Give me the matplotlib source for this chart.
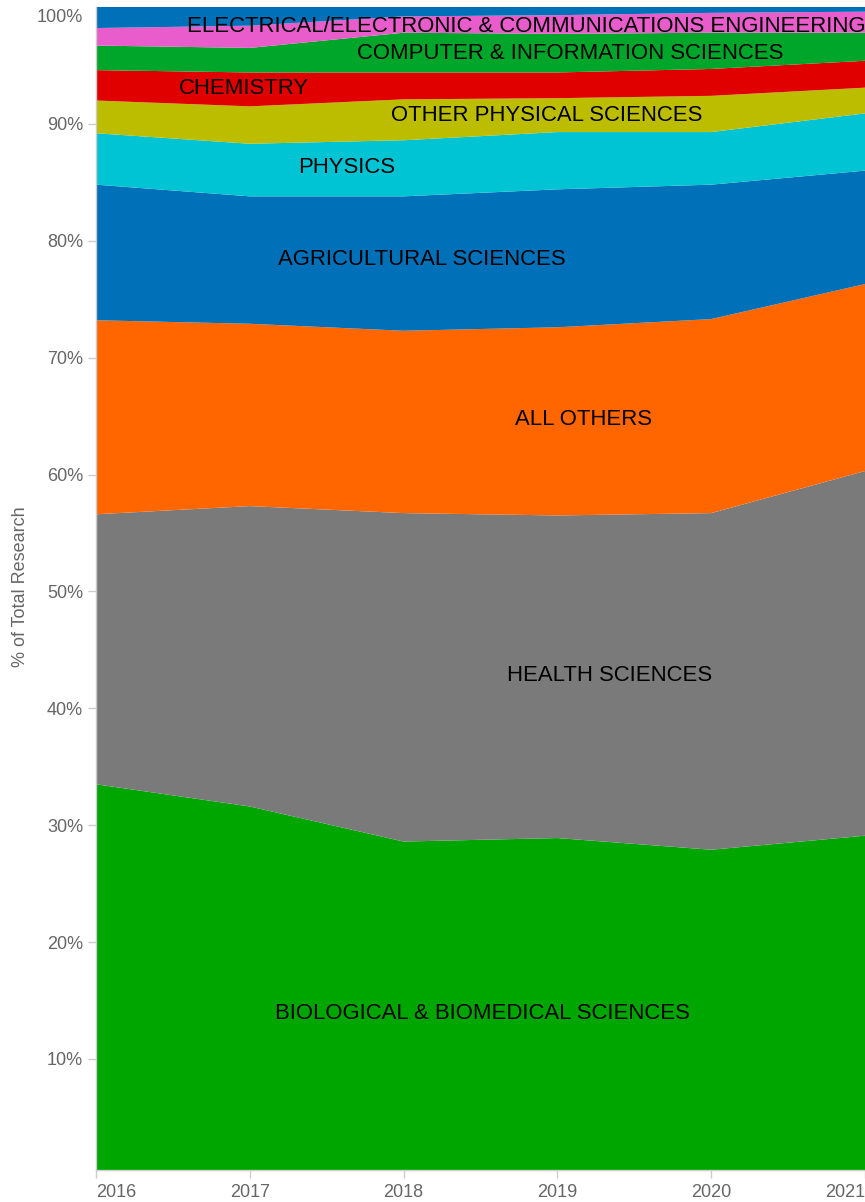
import numpy as np
import matplotlib
matplotlib.use("Agg")
import matplotlib.pyplot as plt

plt.rcParams['font.family'] = ['Liberation Sans', 'DejaVu Sans']

years = [2016, 2017, 2018, 2019, 2020, 2021]

# share of total research (%) per field, stacked from the bottom up
biological = [33.5, 31.6, 28.6, 28.9, 27.9, 29.1]
health = [23.1, 25.7, 28.1, 27.6, 28.8, 31.2]
all_others = [16.6, 15.6, 15.6, 16.1, 16.6, 16.0]
agricultural = [11.6, 10.9, 11.5, 11.8, 11.5, 9.7]
physics = [4.4, 4.5, 4.8, 4.9, 4.5, 4.9]
other_physical = [2.8, 3.2, 3.5, 2.9, 3.1, 2.2]
chemistry = [2.6, 2.9, 2.3, 2.2, 2.3, 2.3]
computer = [2.1, 2.1, 3.4, 3.3, 3.1, 2.4]
electrical = [1.5, 1.9, 1.4, 1.6, 1.7, 1.8]
unlabeled = [1.8, 1.6, 0.8, 0.7, 0.5, 0.4]

fields = ["BIOLOGICAL & BIOMEDICAL SCIENCES", "HEALTH SCIENCES", "ALL OTHERS",
          "AGRICULTURAL SCIENCES", "PHYSICS", "OTHER PHYSICAL SCIENCES", "CHEMISTRY",
          "COMPUTER & INFORMATION SCIENCES",
          "ELECTRICAL/ELECTRONIC & COMMUNICATIONS ENGINEERING", ""]
series = [biological, health, all_others, agricultural, physics, other_physical,
          chemistry, computer, electrical, unlabeled]
colors = ["#00a600", "#7a7a7a", "#ff6600", "#0070b8", "#00c4d4", "#bdbd00",
          "#e00000", "#00a62a", "#e85ccc", "#0070b8"]

# where each field name sits (year, % baseline)
label_pos = [(2018.51, 13.4), (2019.34, 42.3), (2019.17, 64.2), (2018.12, 77.9),
             (2017.63, 85.8), (2018.93, 90.25), (2016.96, 92.55), (2019.08, 95.55),
             (2018.80, 97.85), None]

fig = plt.figure(figsize=(8.65, 12.02), dpi=100)
ax = fig.add_axes([96 / 865, 32 / 1202, 769 / 865, 1163 / 1202])

ax.stackplot(years, np.array(series), colors=colors, linewidth=0, antialiased=True)

for name, pos in zip(fields, label_pos):
    if pos is None:
        continue
    ax.text(pos[0], pos[1], name, ha='center', va='baseline', fontsize=15.9,
            color='black')

ax.set_xlim(2016, 2021)
ax.set_ylim(0.5, 100)

grey = '#666666'
ax.set_yticks(range(10, 100, 10))
ax.set_yticklabels([f"{v}%" for v in range(10, 100, 10)])
ax.annotate("100%", xy=(0, 100), xycoords=('axes fraction', 'data'),
            xytext=(-9.4, -7.9), textcoords='offset points',
            ha='right', va='center', fontsize=13, color=grey)

ax.set_xticks(years)
xlabels = ax.set_xticklabels([str(y) for y in years])
xlabels[0].set_horizontalalignment('left')
xlabels[-1].set_horizontalalignment('right')

ax.tick_params(axis='both', colors='#cccccc', labelcolor=grey, labelsize=13,
               length=5.8, width=1)
ax.tick_params(axis='y', pad=3.5)
ax.tick_params(axis='x', pad=4.5)

for side in ['top', 'right']:
    ax.spines[side].set_visible(False)
for side in ['left', 'bottom']:
    ax.spines[side].set_color('#cccccc')
    ax.spines[side].set_linewidth(1)

fig.text(21 / 865, 1 - 587 / 1202, "% of Total Research", rotation=90,
         ha='center', va='center', fontsize=13, color=grey)

fig.savefig("out.png", dpi=100)
